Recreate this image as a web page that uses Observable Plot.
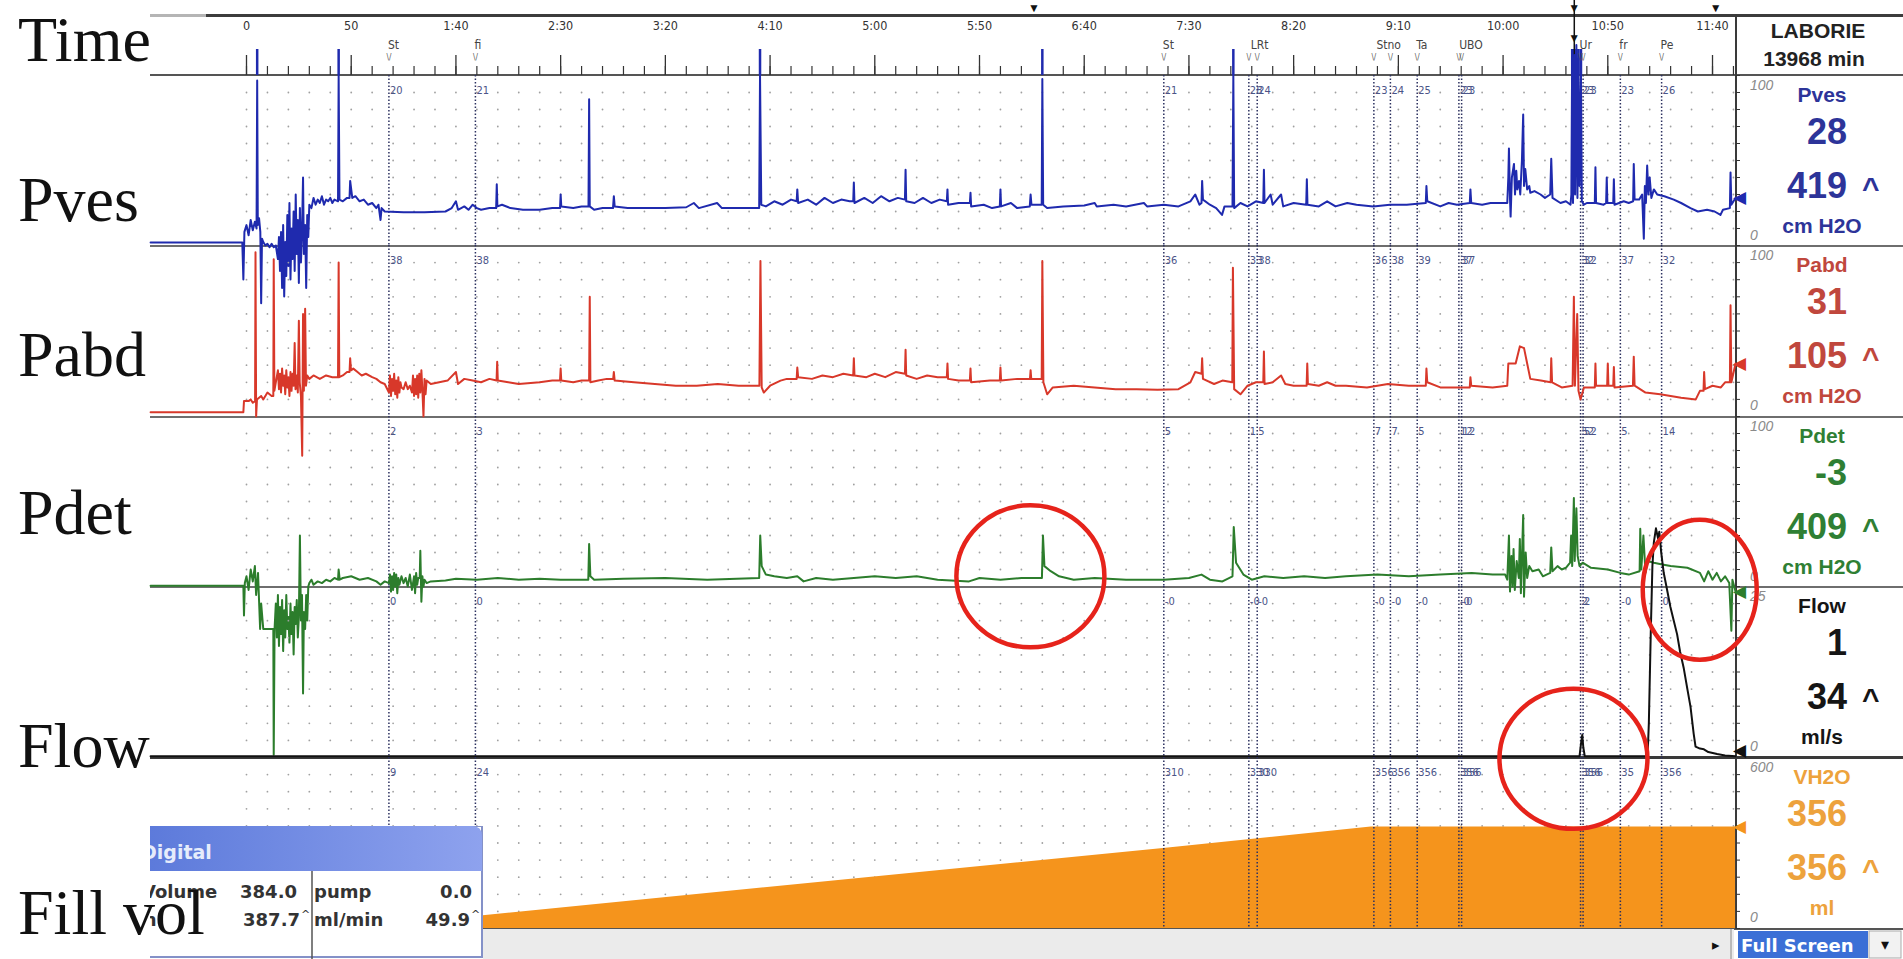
<!DOCTYPE html>
<html><head><meta charset="utf-8">
<script src="https://cdn.jsdelivr.net/npm/d3@7"></script>
<script src="https://cdn.jsdelivr.net/npm/@observablehq/plot@0.6"></script>
<style>
html,body{margin:0;padding:0;background:#fff;}
#root{position:relative;width:1903px;height:959px;overflow:hidden;background:#fff;}
.hl{position:absolute;}
</style></head><body><div id="root"></div><script>
// ---------------- DATA ----------------
// time in seconds, value in panel units
const pves = [[-45.8,1.8],[-2,1.8],[-1.5,-20],[-1,8],[0,12],[1,6],[2,15],[3,9],[4,14],[4.8,10],[5.1,97],[5.4,12],[6,16],[6.6,8],[7,-34],[7.4,4],[8,2],[9,0],[10,1],[11,-1],[12,1],[13,-1],[14,0],
[15,-8],[15.5,5],[16,-15],[16.5,8],[17,-25],[17.5,12],[18,-30],[18.5,2],[19,-18],[19.5,18],[20,-12],[20.5,25],[21,-20],[21.5,10],[22,-8],[22.5,20],[23,-15],[23.5,30],[24,-5],[24.5,15],[25,-22],[25.5,22],[26,-10],[26.5,8],[27,40],[27.4,-5],[28,12],[28.5,-25],[29,18],[29.5,5],[30,24],
[31,22],[32,28],[33,24],[34,27],[35,25],[36,29],[37,24],[38,27],[39,26],[40,28],[41,25],[42,27],[43.7,26],[44,100],[44.4,27],[46,26],[48,28],[49.2,28],[49.5,38],[50.5,28],[52,29],[54,26],[56,27],[58,24],[60,25],[62,22],[63,24],[64,15],[64.5,22],[66,20],[75,19.5],[85,19.5],[95,20],[98,22],[100,26],[101,21],[104,23],[106,21],[108,24],[110,22],[112,21],[116,22],[119.2,22],[119.5,36],[119.8,23],[122,24],[126,22],[132,21],[140,21],[146,22],[149.7,22],[150,30],[150.3,23],[156,22],[160,23],[163.3,23],[163.6,86],[163.9,23],[166,21],[170,22],[175,22],[175.4,29],[175.8,23],[182,22],[190,22],[200,22],[210,22.5],[213.6,25],[216,22],[224.7,25],[227,22],[235,22],[244.8,22],[245.2,100],[245.8,24],[248,23],[252,26],[256,24],[260,27],[262.7,26],[263,33],[263.4,25],[268,27],[272,24],[276,28],[280,25],[284,27],[288,26],[289.7,26],[290,37],[290.3,25],[295,28],[299,25],[303,29],[307,26],[311,28],[314.4,27],[314.7,44.5],[315,26],[319,25],[323,28],[327,25],[331,27],[334.4,26],[334.7,33],[335,24],[340,25],[345.4,25],[345.7,31],[346,23],[352,24],[356,22],[359.7,23],[360,33],[360.3,23],[365,25],[368,22],[374,23],[374.4,30],[374.8,24],[379.7,24],[380,98],[380.4,24],[382.3,22],[390,23],[400,23.5],[405,25],[406,23],[414,24],[420,23],[428.5,25],[430,23],[438,24],[445,23],[450.7,26],[453,30],[455,24],[456,25],[456.3,38],[456.7,27],[460,24],[463,22],[465.8,18],[467,23],[470.8,23],[471.2,100],[471.6,22],[474.6,25],[478,23],[482,26],[485.5,25],[485.8,44.5],[486.1,25],[489,30],[490,24],[494,30],[495,23],[500,25],[506,24],[506.3,39],[506.6,24],[512,23],[516,26],[520,23],[525.6,25],[530,24],[538,23],[546,24],[554,24],[563.1,25],[563.4,35],[563.8,26],[570,23],[574,25],[578,24],[584.1,25],[584.4,33],[584.8,25],[590,24],[594,25],[602,25],
[602.5,40],[602.8,57],[603.3,28],[603.6,17],[604.2,40],[605.2,48],[605.7,30],[606.3,44],[606.8,33],[607.6,38],[608.2,30],[609,50],[609.6,77],[610,35],[610.6,45],[611.5,33],[612.5,35],[613,31],[615,32],[617.9,30],[620,28],[622.5,30],[623,51],[623.6,28],[627.4,25],[630,26],[632.2,24],[632.6,30],[633,115],[633.4,25],[634,112],[634.4,30],[635,118],[635.5,28],[636,110],[636.5,35],[637.2,100],[637.6,26],[638.6,24],[640,25],[643.8,25],[644.1,46],[644.4,25],[648,24],[649.2,25],[649.5,40],[649.8,25],[652.6,25],[652.9,39],[653.2,24],[657.6,26],[660,25],[662.1,26],[662.4,48],[662.8,27],[665,27],[666.4,30],[667.2,4],[667.7,35],[668.2,25],[668.8,47],[669.4,30],[670,40],[670.8,28],[672,33],[673.6,30],[677,29],[681.5,27],[685,25],[689.5,22],[693,20],[697.4,21],[701,20],[703.8,18],[705,21],[708.3,22],[708.6,43],[709,24],[711,28]];

const pabd = [[-45.8,2.5],[-1.5,2.5],[-1.2,9],[1,9],[2,10],[3,8],[4.1,9],[4.3,96],[4.6,0],[5,10],[7,12],[8,10],[10,14],[12,12],[12.8,12],[13,92],[13.3,15],[14,20],[15,27],[15.5,16],[16,25],[16.5,14],[17,28],[17.5,18],[18,24],[18.5,13],[19,27],[19.5,17],[20,23],[20.5,12],[21,26],[21.5,15],[22,25],[22.5,18],[23,43],[23.4,16],[24,24],[24.5,14],[25,56],[25.4,20],[26,12],[26.6,-23],[27,60],[27.4,15],[28,63],[28.4,18],[29,24],[30,22],[32,24],[35,22],[38,24],[41,23],[43.7,23],[44,90],[44.3,23],[46,24],[48,26],[49.2,26],[49.5,34],[49.9,27],[51,28],[53,26],[55,24],[57,25],[60,23],[62,22],[64,20],[66,19],
[68,14],[68.5,24],[69,12],[69.5,22],[70,15],[70.5,25],[71,13],[71.5,21],[72,11],[72.5,23],[73,14],[73.5,20],[74,17],[75,16],[76,20],[77,16],[78,18],[79,14],[79.5,24],[80,12],[80.5,22],[81,13],[81.5,24],[82,11],[82.5,25],[83,14],[83.5,27],[84,15],[84.5,0],[85,22],[85.5,13],[86,21],[88,19],
[92,20],[96,21],[100,26],[101,19],[104,22],[108,21],[112,20],[116,22],[119.4,21],[119.7,32],[120,21],[125,20],[130,19],[140,20],[146,21],[149.7,21],[150,28],[150.3,21],[156,20],[160,21],[163.6,21],[163.9,70],[164.2,20],[168,21],[172,22],[175.1,22],[175.4,26],[175.8,21],[185,20],[195,19],[205,18],[215,18],[225,19],[235,18],[244.9,18],[245.4,91],[246,17],[247,14],[250,18],[255,21],[258,22],[262.7,22],[263,28.6],[263.4,23],[270,22],[275,24],[280,23],[285,25],[289.7,24],[290,34],[290.3,24],[296,23],[300,25],[305,23],[310,26],[314.4,25],[314.7,39],[315,24],[320,22],[325,24],[330,23],[334.4,23],[334.7,31],[335,22],[340,21],[345.4,21],[345.7,28],[346,20],[355,21],[359.7,21],[360,28.6],[360.3,21],[368,22],[374.1,22],[374.4,27],[374.7,22],[379.7,22],[380,91],[380.5,20],[382.3,13],[385,17],[395,18],[405,17],[415,16],[425,16],[435,15.6],[445,16],[450.7,20],[453,26],[456,25],[456.3,34],[456.7,22],[462,19],[466,21],[470.7,20],[471,87],[471.6,16],[474.6,13],[478,18],[482,20],[485.5,20],[485.8,38],[486.1,19],[490,20],[494,24],[496,19],[500,18],[506.2,18],[506.5,31],[506.8,19],[512,18],[516,20],[520,18],[525,18],[535,17],[545,19],[555,18],[563.1,18],[563.4,28],[563.8,20],[570,17],[578,17],[584.1,17],[584.4,23],[584.8,18],[595,17],[602,18],[602.5,31],[606,31],[608,41],[610,40],[611.5,31],[613,22],[618,21],[622.7,20],[623,34],[623.4,20],[628,17],[633.2,18],[633.8,70],[634.3,18],[635.4,60],[636,15],[637,10],[638.6,17],[643.8,17],[644.1,31],[644.4,18],[649,18],[649.7,18],[650,31],[650.3,18],[652.6,18],[652.9,29],[653.2,17],[662,18],[662.4,35],[662.8,18],[668,14],[675,13],[685,11],[692,10],[694,15],[695.7,15],[696,26],[696.4,16],[700,18],[704,17],[706,20],[708.3,20],[708.6,65],[709,20],[711,31]];

const pdet = [[-45.8,0.5],[-1.5,0.5],[-1.2,-17],[-0.8,2],[0,6],[1,-2],[2,10],[3,3],[4,12],[4.6,-5],[5.5,8],[6.5,-25],[7,-10],[8,-25],[12.8,-25],[13,-99],[13.4,-25],[14,-10],[14.5,-30],[15,-5],[15.5,-35],[16,-12],[16.5,-28],[17,-8],[17.5,-38],[18,-14],[18.5,-30],[19,-5],[19.5,-25],[20,-18],[20.5,-33],[21,-10],[21.5,-28],[22,-15],[22.5,-40],[23,-12],[23.5,-22],[24,-8],[24.5,-30],[25,-18],[25.5,30],[26,-20],[26.5,-5],[27,-63],[27.4,-15],[28,-25],[28.5,-5],[29,-20],[29.5,0],[30,2],[31,4],[32,1],[34,3],[36,2],[38,4],[40,3],[42,5],[43.7,4],[44,10],[44.5,4],[46,5],[50,6],[54,4],[58,5],[62,3],[64,1],[66,3],[68,2],[68.5,7],[69,-3],[69.5,6],[70,-2],[70.5,8],[71,0],[71.5,7],[72,-4],[72.5,5],[73,1],[74,6],[75,2],[76,5],[77,0],[78,7],[79,-2],[80,6],[80.5,-4],[81,8],[81.5,1],[82,5],[82.7,5],[83,21],[83.5,-9],[84,6],[84.5,0],[85,4],[86,2],[88,3],[95,3.5],[100,4.5],[110,4],[120,5],[130,4],[140,4.5],[150,4],[163.2,4],[163.6,25],[164.2,6],[166,4],[180,4.5],[200,5],[220,4],[244.8,5],[245.3,30],[246,12],[248,7],[252,6],[258,5],[263,6],[266,3],[272,5],[280,4],[290,5],[300,6],[310,5],[320,6],[330,4],[345,3],[350,5],[360,4],[370,5],[379.8,5],[380.3,30],[381,12],[384,9],[388,6],[395,4],[405,5],[420,4],[438,4],[450,5],[456,7],[460,4],[466,3],[470.8,6],[471.4,35],[472.5,14],[476,7],[480,4],[486,6],[495,5],[505,6],[515,5],[525,6],[540,7],[555,6],[570,7],[585,8],[595,7],[601,7],
[602,4],[602.8,30],[603.3,-3],[604,18],[604.5,0],[605,22],[605.6,-2],[606.5,15],[607.5,5],[608,28],[608.5,-4],[609.6,42],[610,-6],[610.8,20],[611.5,5],[612.5,12],[614,9],[617,10],[619,6],[622.5,8],[623,23],[623.6,9],[626,12],[628,10],[630,11],[632,14],[632.5,30],[633,12],[633.8,52],[634.2,15],[635,46],[635.6,18],[636.5,12],[638,14],[642,11],[650,10],[656,8],[660,7],[665.2,9],[665.5,34],[666,10],[667,30],[668,8],[669,15],[672,14],[676,13],[680,12],[688,11],[694,8],[696,3],[698,9],[700,4],[702,8],[704,3],[706,6],[708,2],[709,-26],[709.5,4],[711,-3]];

const flow = [[-45.8,0.2],[636.5,0.2],[637.2,2],[637.8,3.3],[638.3,1.5],[639,0.2],[669,0.2],[669.6,5],[670.5,18],[671.3,28],[672,31.5],[673,33.5],[674,32],[674.6,33],[675.5,30],[676.7,27],[678,25],[679.9,22],[681.5,20],[683.1,18],[684.5,15.5],[686.3,13],[688,10],[689.5,7.4],[691,3.5],[691.9,1.6],[694,1.3],[695.9,1.2],[698,0.8],[702.2,0.5],[706,0.3],[711,0.2]];

const fillVol = [[49,0],[113,45],[439,282],[537,356],[711,356]];

// event markers
const evT     = [68, 109.3, 438, 478.6, 482.6, 538.3, 546.2, 559, 578.9, 580.2, 637, 638.2, 656, 675.7];
const evPves  = ["20","21","21","28","24","23","24","25","23","23","23","23","23","26"];
const evPabd  = ["38","38","36","33","38","36","38","39","37","37","32","32","37","32"];
const evPdet  = ["2","3","5","1","5","7","7","5","12","12","52","52","5","14"];
const evFlow  = ["0","0","-0","-0","-0","-0","-0","-0","-0","-0","2","2","-0","0"];
const evFill  = ["9","24","310","330","330","356","356","356","356","356","356","356","35","356"];
const evNameT = [68, 109.3, 438, 480, 540, 559, 579.5, 637, 656, 675.7];
const evName  = ["St","fi","St","LRt","Stno","Ta","UBO","Ur","fr","Pe"];
const cursorT = [376, 634, 701.5];

// channel summary (right panel)
const chanNames   = ["Pves","Pabd","Pdet","Flow","VH2O"];
const chanCurrent = [28, 31, -3, 1, 356];
const chanMax     = [419, 105, 409, 34, 356];
const chanUnits   = ["cm H2O","cm H2O","cm H2O","ml/s","ml"];
const chanTop     = [100, 100, 100, 25, 600];
const leftLabels  = ["Time","Pves","Pabd","Pdet","Flow","Fill vol"];
const timeTicks   = d3.range(0, 701, 50);

// red annotation circles (panel, time, value, radii px)
const notes = [{panel:2, t:374.3, v:6, rx:74, ry:71},{panel:2, t:693.9, v:-1.9, rx:57, ry:70},{panel:3, t:633.6, v:-0.2, rx:74, ry:70}];

// ---------------- LAYOUT ----------------
const root = document.getElementById("root");
const X0 = 150, X1 = 1735, W = X1 - X0;
const T0 = (X0 - 246) / 2.0943, T1 = (X1 - 246) / 2.0943;
const NARROW = '"Liberation Sans Narrow","DejaVu Sans Condensed","Arial Narrow",sans-serif';
const SANS = '"Liberation Sans",Arial,sans-serif';
const COLORS = ["#1f2aae","#d8382a","#2c7d2c","#111111","#f5941c"];
const TEXTCOL = ["#2d3499","#c0473d","#2f7f34","#151515","#eda23c"];
const panelTop = [75, 245, 416, 586, 757];
const panelH   = [170, 171, 170, 171, 171];
const minorTicks = d3.range(0, 711, 10);

function hline(y, x0, x1, h, col){
  const d = document.createElement("div"); d.className="hl";
  Object.assign(d.style,{left:x0+"px",top:y+"px",width:(x1-x0)+"px",height:h+"px",background:col});
  root.appendChild(d);
}
function vline(x, y0, y1, w, col){
  const d = document.createElement("div"); d.className="hl";
  Object.assign(d.style,{left:x+"px",top:y0+"px",width:w+"px",height:(y1-y0)+"px",background:col});
  root.appendChild(d);
}
function place(svg, left, top){
  svg.style.position="absolute"; svg.style.left=left+"px"; svg.style.top=top+"px";
  root.appendChild(svg);
}
// chrome lines
hline(13.5, 150, 206, 3, "#b5b5b5");
hline(13.5, 206, 1903, 3, "#3c3c3c");
hline(74, 150, 1903, 2, "#555");
[244.5, 415.5, 585.5].forEach(y => hline(y, 150, 1903, 2, "#6e6e6e"));
hline(756, 150, 1903, 2.5, "#3a3a3a");
hline(927.5, 150, 1903, 2, "#555");
vline(1734.5, 14, 929, 2.5, "#3a3a3a");

const fmtTime = t => t < 60 ? String(t) : `${Math.floor(t/60)}:${String(t%60).padStart(2,"0")}`;
const spikeT = pves.filter(d => d[1] >= 90).map(d => d[0]);

// time band
place(Plot.plot({
  width: W, height: 75, marginTop:0, marginBottom:0, marginLeft:0, marginRight:0,
  x: {domain:[T0,T1], axis:null}, y: {domain:[0,75], range:[0,75], axis:null},
  style: {background:"transparent", overflow:"visible"},
  marks: [
    Plot.ruleX(minorTicks, {x: d=>d, y1: 66, y2: 75, stroke:"#333", strokeWidth:1.2}),
    Plot.ruleX(timeTicks, {x: d=>d, y1: 55, y2: 75, stroke:"#333", strokeWidth:1.3}),
    Plot.text(timeTicks, {x: d=>d, y: 25, text: fmtTime, fontSize: 12.5, fill:"#333", fontFamily: NARROW}),
    Plot.ruleX(spikeT, {x: d=>d, y1: 49, y2: 75, stroke: COLORS[0], strokeWidth: 2.5}),
    Plot.text(d3.range(evName.length), {x: i=>evNameT[i], y: 45, text: i=>evName[i], textAnchor:"start", dx:-1, fontSize: 12, fill:"#444", fontFamily: NARROW}),
    Plot.text(evT, {x: d=>d, y: 57, text: ()=>"\\/", fontSize: 8, fill:"#555", fontFamily: NARROW}),
    Plot.ruleX([cursorT[1]], {x: d=>d, y1: 0, y2: 75, stroke:"#111", strokeWidth: 1.5}),
    Plot.text([cursorT[1]], {x: d=>d, y: 38, text: ()=>"▼", fontSize: 12, fill:"#111"}),
    Plot.text(cursorT, {x: d=>d, y: 8, text: ()=>"▼", fontSize: 12, fill:"#111"})
  ]
}), X0, 0);

function ellipseSymbol(ax, ay){
  return {draw(ctx, size){
    const r = Math.sqrt(size/Math.PI), rx = r*ax, ry = r*ay, k = 0.5523;
    ctx.moveTo(rx,0);
    ctx.bezierCurveTo(rx, ry*k, rx*k, ry, 0, ry);
    ctx.bezierCurveTo(-rx*k, ry, -rx, ry*k, -rx, 0);
    ctx.bezierCurveTo(-rx, -ry*k, -rx*k, -ry, 0, -ry);
    ctx.bezierCurveTo(rx*k, -ry, rx, -ry*k, rx, 0);
    ctx.closePath();
  }};
}

const panelData = [pves, pabd, pdet, flow, fillVol];
const panelEv = [evPves, evPabd, evPdet, evFlow, evFill];
function makePanel(i, overlayOnly){
  const ymax = chanTop[i];
  const rows = d3.range(1, 10).map(k => k*ymax/10);
  const tickVals = d3.range(0, 11).map(k => k*ymax/10);
  let marks;
  if (overlayOnly) {
    marks = notes.filter(n => n.panel === i).map(n =>
      Plot.dot([n], {x:"t", y:"v", r: 1, symbol: ellipseSymbol(n.rx, n.ry), stroke:"#e6231b", strokeWidth: 4.5, fill:"none"}));
  } else {
    marks = [
      Plot.dot(d3.cross(minorTicks, rows), {x: d=>d[0], y: d=>d[1], r: 0.9, fill:"#a0a0a0"}),
      i === 4 ? Plot.areaY(fillVol, {x: d=>d[0], y: d=>d[1], fill: COLORS[4]}) : null,
      Plot.ruleX(evT, {x: d=>d, stroke:"#2c3160", strokeWidth: 1.5, strokeDasharray:"1.5,2"}),
      Plot.text(d3.range(evT.length), {x: k=>evT[k], text: k=>panelEv[i][k], frameAnchor:"top", dy: 11, dx: 1, textAnchor:"start", fontSize: 11, fill:"#4b5488", fontFamily: NARROW}),
      i === 4 ? null : Plot.line(panelData[i], {x: d=>d[0], y: d=>d[1], stroke: COLORS[i], strokeWidth: 2}),
      Plot.axisY(tickVals, {anchor:"right", tickSize: 4, tickFormat: () => "", label: null, stroke:"#333"}),
      Plot.text([chanCurrent[i]], {y: d=>d, frameAnchor:"right", text: ()=>"◀", dx: 10, fontSize: 17, fill: COLORS[i]})
    ].filter(Boolean);
  }
  return Plot.plot({
    width: W, height: panelH[i], marginTop:0, marginBottom:0, marginLeft:0, marginRight:0,
    x: {domain:[T0,T1], axis:null}, y: {domain:[0, ymax], axis:null},
    style: {background:"transparent", overflow:"visible"},
    marks
  });
}
for (let i = 0; i < 5; i++) place(makePanel(i, false), X0, panelTop[i]);

// bottom scrollbar + full screen
const bot = d3.create("svg").attr("width",1903).attr("height",959)
  .style("position","absolute").style("left","0px").style("top","0px").style("overflow","visible");
bot.append("rect").attr("x",483).attr("y",929).attr("width",1251).attr("height",30).attr("fill","#ebebeb");
bot.append("text").attr("x",1712).attr("y",950).text("▸").attr("font-size",15).attr("fill","#111");
bot.append("line").attr("x1",1731).attr("x2",1731).attr("y1",929).attr("y2",959).attr("stroke","#888");
bot.append("rect").attr("x",1738).attr("y",931).attr("width",130).attr("height",27).attr("fill","#3b6fd6");
bot.append("text").attr("x",1741).attr("y",952).text("Full Screen").attr("font-family",'"DejaVu Sans",sans-serif').attr("font-weight","bold").attr("font-size",18).attr("fill","#fff");
bot.append("rect").attr("x",1869).attr("y",931).attr("width",32).attr("height",27).attr("fill","#f2f2f2").attr("stroke","#aaa");
bot.append("text").attr("x",1885).attr("y",950).attr("text-anchor","middle").text("▾").attr("font-size",16).attr("fill","#111");
root.appendChild(bot.node());

// Digital box
const dig = d3.create("svg").attr("width",334).attr("height",133)
  .style("position","absolute").style("left","150px").style("top","826px");
const gr = dig.append("defs").append("linearGradient").attr("id","tb").attr("x1",0).attr("x2",1).attr("y1",0).attr("y2",0);
gr.append("stop").attr("offset",0).attr("stop-color","#5b79da");
gr.append("stop").attr("offset",1).attr("stop-color","#8ea2ee");
dig.append("rect").attr("x",-10).attr("y",0).attr("width",342).attr("height",131).attr("fill","#fff").attr("stroke","#8491c8").attr("stroke-width",2);
dig.append("path").attr("d","M-10,0 H322 Q332,0 332,10 V45 H-10 Z").attr("fill","url(#tb)");
const DJ = '"DejaVu Sans",sans-serif';
dig.append("text").attr("x",-9).attr("y",33).text("Digital").attr("font-family",DJ).attr("font-weight","bold").attr("font-size",19).attr("fill","#e6ecfb");
dig.append("line").attr("x1",162).attr("x2",162).attr("y1",45).attr("y2",133).attr("stroke","#555").attr("stroke-width",1.5);
const dt = (x,y,s,anchor) => dig.append("text").attr("x",x).attr("y",y).attr("text-anchor",anchor||"start").text(s)
  .attr("font-family",DJ).attr("font-weight","bold").attr("font-size",18).attr("fill","#333");
dt(-8,72,"Volume"); dt(147,72,"384.0","end"); dt(164,72,"pump"); dt(322,72,"0.0","end");
dt(-26,100,"Vin"); dt(150,100,"387.7","end"); dt(164,100,"ml/min"); dt(320,100,"49.9","end");
dig.append("text").attr("x",151).attr("y",92).text("^").attr("font-family",DJ).attr("font-size",11).attr("fill","#333");
dig.append("text").attr("x",321).attr("y",92).text("^").attr("font-family",DJ).attr("font-size",11).attr("fill","#333");
root.appendChild(dig.node());

// chrome text: left labels + right channel panel
const ch = d3.create("svg").attr("width",1903).attr("height",959)
  .style("position","absolute").style("left","0px").style("top","0px").style("overflow","visible");
const leftY = [61, 221, 376, 534, 767, 934];
leftLabels.forEach((s,i) => ch.append("text").attr("x",18).attr("y",leftY[i]).text(s)
  .attr("font-family",'"Liberation Serif","Times New Roman",serif').attr("font-size",64).attr("fill","#111"));
const rt = (x,y,s,o) => ch.append("text").attr("x",x).attr("y",y).text(s)
  .attr("text-anchor",o.anchor||"start").attr("font-family",o.font||SANS).attr("font-weight",o.weight||"bold")
  .attr("font-style",o.style||"normal").attr("font-size",o.size).attr("fill",o.fill);
rt(1818, 38, "LABORIE", {anchor:"middle", size:21, fill:"#222"});
rt(1814, 66, "13968 min", {anchor:"middle", size:21, fill:"#222"});
chanNames.forEach((n,i) => {
  const T = panelTop[i], c = TEXTCOL[i];
  rt(1750, T+15, String(chanTop[i]), {size:14, weight:"normal", style:"italic", fill:"#8a8a8a"});
  rt(1822, T+27, n, {anchor:"middle", size:21, fill:c});
  rt(1847, T+69, String(chanCurrent[i]), {anchor:"end", size:36, fill:c});
  rt(1847, T+123, String(chanMax[i]), {anchor:"end", size:36, fill:c});
  rt(1862, T+123, "^", {size:30, fill:c});
  rt(1822, T+158, chanUnits[i], {anchor:"middle", size:21, fill:c});
  rt(1750, T+165, "0", {size:14, weight:"normal", style:"italic", fill:"#8a8a8a"});
});
root.appendChild(ch.node());

// annotation circles on top
[2,3].forEach(i => place(makePanel(i, true), X0, panelTop[i]));
</script></body></html>
